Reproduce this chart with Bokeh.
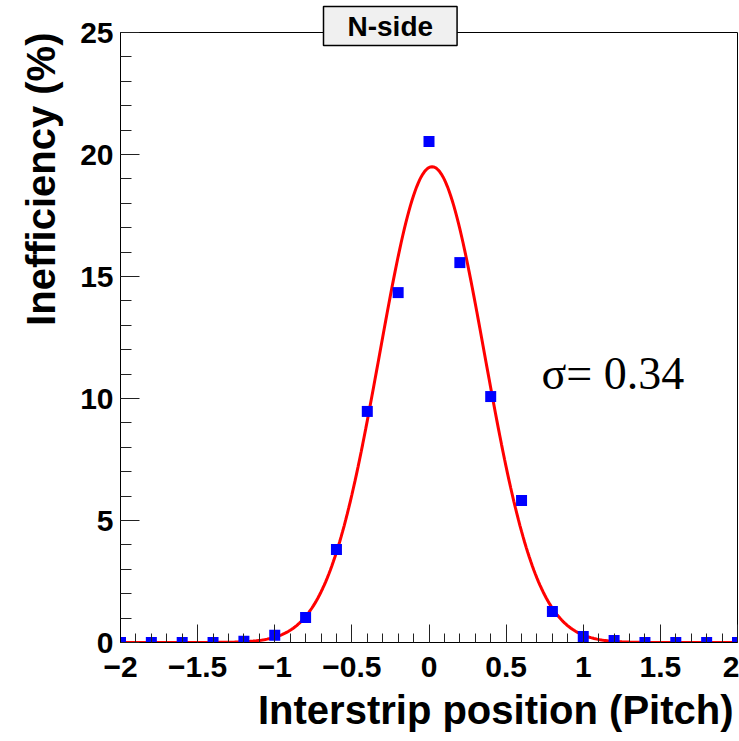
import numpy as np
from bokeh.plotting import figure
from bokeh.models import FixedTicker, CustomJSTickFormatter, Label, ColumnDataSource, Range1d, Title
from bokeh.embed import file_html
from bokeh.resources import INLINE

# ---- data ----
positions = [-2.0, -1.8, -1.6, -1.4, -1.2, -1.0, -0.8, -0.6, -0.4, -0.2, 0.0,
             0.2, 0.4, 0.6, 0.8, 1.0, 1.2, 1.4, 1.6, 1.8, 2.0]
inefficiency = [0.0, 0.0, 0.0, 0.0, 0.05, 0.3, 1.02, 3.81, 9.47, 14.34, 20.53,
                15.57, 10.08, 5.82, 1.27, 0.25, 0.08, 0.0, 0.0, 0.0, 0.0]

# Gaussian fit parameters
fit_amplitude = 19.5
fit_mean = 0.02
fit_sigma = 0.34

x_ticks = [-2, -1.5, -1, -0.5, 0, 0.5, 1, 1.5, 2]
y_ticks = [0, 5, 10, 15, 20, 25]

title_text = "N-side"
x_title = "Interstrip position (Pitch)"
y_title = "Inefficiency (%)"
sigma_text = "σ= 0.34"

# ---- figure ----
p = figure(width=739, height=741, output_backend="svg", toolbar_location=None,
           x_range=Range1d(-2, 2), y_range=Range1d(0, 25),
           min_border_left=120, min_border_right=2, min_border_top=32, min_border_bottom=99)
p.background_fill_color = "white"
p.border_fill_color = "white"
p.outline_line_color = "black"
p.outline_line_width = 1
p.xgrid.visible = False
p.ygrid.visible = False

minor_x = [round(-2 + 0.1 * i, 1) for i in range(41)]
minor_y = list(range(0, 26))
p.xaxis.ticker = FixedTicker(ticks=x_ticks, minor_ticks=minor_x)
p.yaxis.ticker = FixedTicker(ticks=y_ticks, minor_ticks=minor_y)
p.xaxis.formatter = CustomJSTickFormatter(code="return tick.toString().replace('-', '\u2212');")
p.yaxis.formatter = CustomJSTickFormatter(code="return tick.toString().replace('-', '\u2212');")

for ax in (p.xaxis[0], p.yaxis[0]):
    ax.axis_line_color = "black"
    ax.axis_line_width = 1
    ax.major_tick_in = 18
    ax.major_tick_out = 0
    ax.minor_tick_in = 9
    ax.minor_tick_out = 0
    ax.major_tick_line_color = "#222222"
    ax.minor_tick_line_color = "#222222"
    ax.major_label_text_font = "Liberation Sans"
    ax.major_label_text_font_style = "bold"
    ax.major_label_text_font_size = "30px"
    ax.major_label_text_color = "black"
p.xaxis.major_label_standoff = 14
p.yaxis.major_label_standoff = 7
p.yaxis.minor_tick_in = 11
p.yaxis.major_tick_in = 19

# fit curve
xs = np.linspace(-2, 2, 401)
ys = fit_amplitude * np.exp(-0.5 * ((xs - fit_mean) / fit_sigma) ** 2)
p.line(xs, ys, line_color="red", line_width=3)

# data points
src = ColumnDataSource(dict(x=positions, y=inefficiency))
p.scatter("x", "y", source=src, marker="square", size=11, fill_color="blue", line_color=None)

# axis titles in side panels (right / top aligned, as in ROOT)
p.add_layout(Title(text=x_title, align="right", vertical_align="top", offset=4, standoff=16,
                   text_font="Liberation Sans", text_font_style="bold",
                   text_font_size="40px", text_color="black"), "below")
p.add_layout(Title(text=y_title, align="right", vertical_align="bottom", offset=0, standoff=30,
                   text_font="Liberation Sans", text_font_style="bold",
                   text_font_size="40px", text_color="black"), "left")

# title box: shadow first (nearest the frame), then the box itself
p.add_layout(Title(text=title_text, align="left", vertical_align="bottom", offset=200, standoff=-28,
                   text_font="Liberation Sans", text_font_style="bold", text_font_size="28px",
                   text_alpha=0, background_fill_color="#333333", border_line_color="#333333",
                   border_line_width=1.5, padding=(24, 4)), "above")
p.add_layout(Title(text=title_text, align="left", vertical_align="bottom", offset=203, standoff=-26,
                   text_font="Liberation Sans", text_font_style="bold", text_font_size="28px",
                   text_color="black", background_fill_color="#f0f0f0", border_line_color="black",
                   border_line_width=1.5, padding=(24, 4)), "above")

# sigma annotation
p.add_layout(Label(x=0.729, y=11.02, text=sigma_text, text_align="left", text_baseline="alphabetic",
                   text_font="Liberation Serif", text_font_size="46px", text_color="black"))

open("out.html", "w").write(file_html(p, INLINE))
